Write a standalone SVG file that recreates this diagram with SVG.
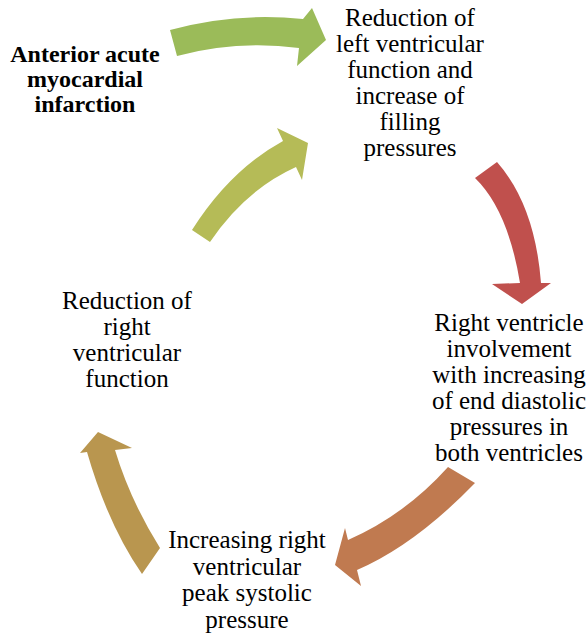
<svg xmlns="http://www.w3.org/2000/svg" width="588" height="636" viewBox="0 0 588 636">
<style>
  text { font-family: 'Liberation Serif', 'DejaVu Serif', serif; font-size: 25px; fill: #000; text-anchor: middle; }
  .b { font-weight: bold; font-size: 24px; }
</style>
<rect width="588" height="636" fill="#fff"/>
<g id="connectors">
  <path id="a1" fill="#9BBB59" d="M170,30 Q235,12 303,19 L312,8 L326,40 L297,66 L299,48 Q237,40 177,56 Z"/>
  <path id="a2" fill="#C0504D" d="M497,162 Q535,205 541,283 L551,283 L522,304 L492,284 L520,283 Q508,210 475,178 Z"/>
  <path id="a3" fill="#C07A50" d="M448,467 Q405,515 348,540 L345,528 L335,565 L361,586 L357,570 Q415,545 475,483 Z"/>
  <path id="a4" fill="#B9964F" d="M142,574 Q108,525 87,452 L80,453 L98,432 L132,448 L115,450 Q130,500 160,548 Z"/>
  <path id="a5" fill="#B5BB57" d="M192,230 Q230,170 283,141 L277,128 L308,143 L302,180 L296,167 Q245,190 210,242 Z"/>
</g>
<g id="n0" font-family="Liberation Serif, DejaVu Serif, serif">
  <text class="b" x="85" y="62">Anterior acute</text>
  <text class="b" x="85" y="87">myocardial</text>
  <text class="b" x="85" y="112">infarction</text>
</g>
<g id="n1" font-family="Liberation Serif, DejaVu Serif, serif">
  <text x="410" y="26">Reduction of</text>
  <text x="410" y="52">left ventricular</text>
  <text x="410" y="78">function and</text>
  <text x="410" y="104">increase of</text>
  <text x="410" y="130">filling</text>
  <text x="410" y="156">pressures</text>
</g>
<g id="n2" font-family="Liberation Serif, DejaVu Serif, serif">
  <text x="509" y="331">Right ventricle</text>
  <text x="509" y="357">involvement</text>
  <text x="509" y="383">with increasing</text>
  <text x="509" y="409">of end diastolic</text>
  <text x="509" y="435">pressures in</text>
  <text x="509" y="461">both ventricles</text>
</g>
<g id="n3" font-family="Liberation Serif, DejaVu Serif, serif">
  <text x="247" y="548">Increasing right</text>
  <text x="247" y="575">ventricular</text>
  <text x="247" y="601">peak systolic</text>
  <text x="247" y="628">pressure</text>
</g>
<g id="n4" font-family="Liberation Serif, DejaVu Serif, serif">
  <text x="127" y="309">Reduction of</text>
  <text x="127" y="335">right</text>
  <text x="127" y="361">ventricular</text>
  <text x="127" y="387">function</text>
</g>
</svg>
